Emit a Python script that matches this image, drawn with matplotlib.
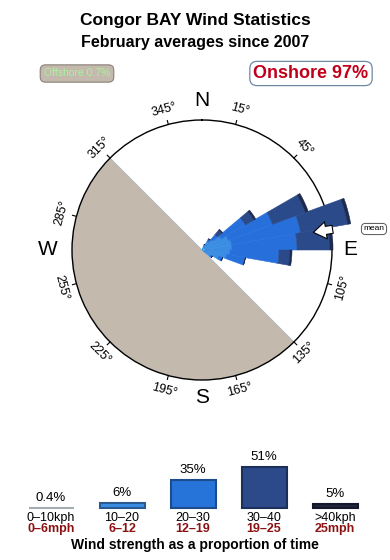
import numpy as np
import matplotlib
matplotlib.use("Agg")
import matplotlib.pyplot as plt

plt.rcParams['font.family'] = ['Liberation Sans', 'DejaVu Sans']

# Rose data: direction sectors (deg, 10 deg wide) and stacked lengths per speed class
sector_dirs = [25, 35, 45, 55, 65, 75, 85, 95, 105, 115, 125]
calm = [0, 2, 3, 3, 3, 3, 3, 3, 3, 2, 0]
light = [5, 8, 11, 19, 25, 27, 27, 25, 22, 16, 10]
medium = [1, 2, 6, 28, 47, 70, 65, 49, 19, 4, 2]
dark = [0, 1, 6, 10, 35, 48, 33, 11, 0, 0, 0]
darkest = [0, 0, 1, 2, 3, 3, 3, 2, 0, 0, 0]
rose_colors = ['#4cc6ea', '#3a8de2', '#2770dc', '#2b4a8a', '#1d2a4e']

mean_dir = 81
offshore_from, offshore_to = 135, 315
deg_labels = [15, 45, 105, 135, 165, 195, 225, 255, 285, 315, 345]

# Speed class summary
classes_kph = ['0–10kph', '10–20', '20–30', '30–40', '>40kph']
classes_mph = ['0–6mph', '6–12', '12–19', '19–25', '25mph']
class_pct = [0.4, 6, 35, 51, 5]
bar_fc = ['#b4bcc0', '#3a8ee6', '#2673d9', '#2c4a8a', '#22263c']
bar_ec = ['#a4acb0', '#2a5a90', '#1d4c8a', '#1c2f5a', '#14182a']

W, H = 390, 560
fig = plt.figure(figsize=(W / 100, H / 100), dpi=100)

# titles
fig.text(0.5, 1 - 20 / H, 'Congor BAY Wind Statistics', ha='center', va='center',
         fontsize=12.5, fontweight='bold')
fig.text(0.5, 1 - 42 / H, 'February averages since 2007', ha='center', va='center',
         fontsize=11.5, fontweight='bold')
fig.text(77 / W, 1 - 73.5 / H, 'Offshore 0.7%', ha='center', va='center', fontsize=7.5,
         color='#a6f59a',
         bbox=dict(boxstyle='round,pad=0.35,rounding_size=0.5', fc='#c4b9ad', ec='#8a8078', lw=0.8))
fig.text(311 / W, 1 - 73.5 / H, 'Onshore 97%', ha='center', va='center', fontsize=13,
         fontweight='bold', color='#c0001a',
         bbox=dict(boxstyle='round,pad=0.2,rounding_size=0.4', fc='white', ec='#6f88a4', lw=0.9))

# rose
R = 130
cx, cy = 202, 250
ax = fig.add_axes([(cx - R) / W, (H - cy - R) / H, 2 * R / W, 2 * R / H], projection='polar')
ax.set_theta_zero_location('N')
ax.set_theta_direction(-1)
ax.set_ylim(0, R)
ax.set_xticks([])
ax.set_yticks([])
ax.grid(False)
ax.spines['polar'].set_linewidth(1.0)
ax.spines['polar'].set_color('black')

mid = np.radians((offshore_from + offshore_to) / 2)
ax.bar(mid, R, width=np.radians(offshore_to - offshore_from), color='#c4b9ad',
       edgecolor='#a9b5c0', linewidth=0.6, zorder=1)

theta = np.radians(sector_dirs)
width = np.radians(10)
bottom = np.zeros(len(sector_dirs))
for seg, col in zip([calm, light, medium, dark, darkest], rose_colors):
    seg = np.array(seg, dtype=float)
    ax.bar(theta, seg, width=width, bottom=bottom, color=col, edgecolor=col,
           linewidth=0.4, clip_on=False, zorder=3)
    bottom += seg

ax.annotate('', xy=(np.radians(mean_dir), 110), xytext=(np.radians(mean_dir), 135),
            arrowprops=dict(arrowstyle='simple,head_width=0.95,head_length=0.7,tail_width=0.45',
                            fc='white', ec='black', lw=0.8, mutation_scale=13),
            annotation_clip=False, zorder=5)
fig.text(374 / W, 1 - 229 / H, 'mean', ha='center', va='center', fontsize=6,
         bbox=dict(boxstyle='round,pad=0.25,rounding_size=0.5', fc='white', ec='#555555', lw=0.7))

for d in deg_labels:
    t = np.radians(d)
    ax.plot([t, t], [R, R + 4], color='black', lw=0.8, clip_on=False, zorder=4)
    rot = -d
    while rot <= -90:
        rot += 180
    while rot > 90:
        rot -= 180
    ax.text(t, R + 15, f'{d}°', ha='center', va='center', rotation=rot,
            rotation_mode='anchor', fontsize=9, clip_on=False)

for lab, d, rr in [('N', 0, 149), ('E', 90, 148), ('S', 180, 148), ('W', 270, 154)]:
    ax.text(np.radians(d), rr, lab, ha='center', va='center', fontsize=15, clip_on=False)

# speed class bars
pitch = 71
x0 = 51 - pitch / 2
base = 52
top = 60
bx = fig.add_axes([x0 / W, base / H, 5 * pitch / W, (41 / 51 * top) / H])
bx.set_xlim(-0.5, 4.5)
bx.set_ylim(0, top)
bx.axis('off')
xs = np.arange(len(class_pct))
bx.bar(xs, class_pct, width=45 / pitch, color=bar_fc, edgecolor=bar_ec, linewidth=1.5,
       clip_on=False)
for x, v, k, m in zip(xs, class_pct, classes_kph, classes_mph):
    bx.annotate(f'{v:g}%', (x, v), xytext=(0, 3), textcoords='offset points',
                ha='center', va='bottom', fontsize=9.5, annotation_clip=False)
    bx.annotate(k, (x, 0), xytext=(0, -7), textcoords='offset points',
                ha='center', va='center', fontsize=9, annotation_clip=False)
    bx.annotate(m, (x, 0), xytext=(0, -14.8), textcoords='offset points',
                ha='center', va='center', fontsize=9, fontweight='bold',
                color='#8b1212', annotation_clip=False)

fig.text(0.5, 1 - 545 / H, 'Wind strength as a proportion of time', ha='center', va='center',
         fontsize=10, fontweight='bold')

fig.savefig('out.png', dpi=100)
